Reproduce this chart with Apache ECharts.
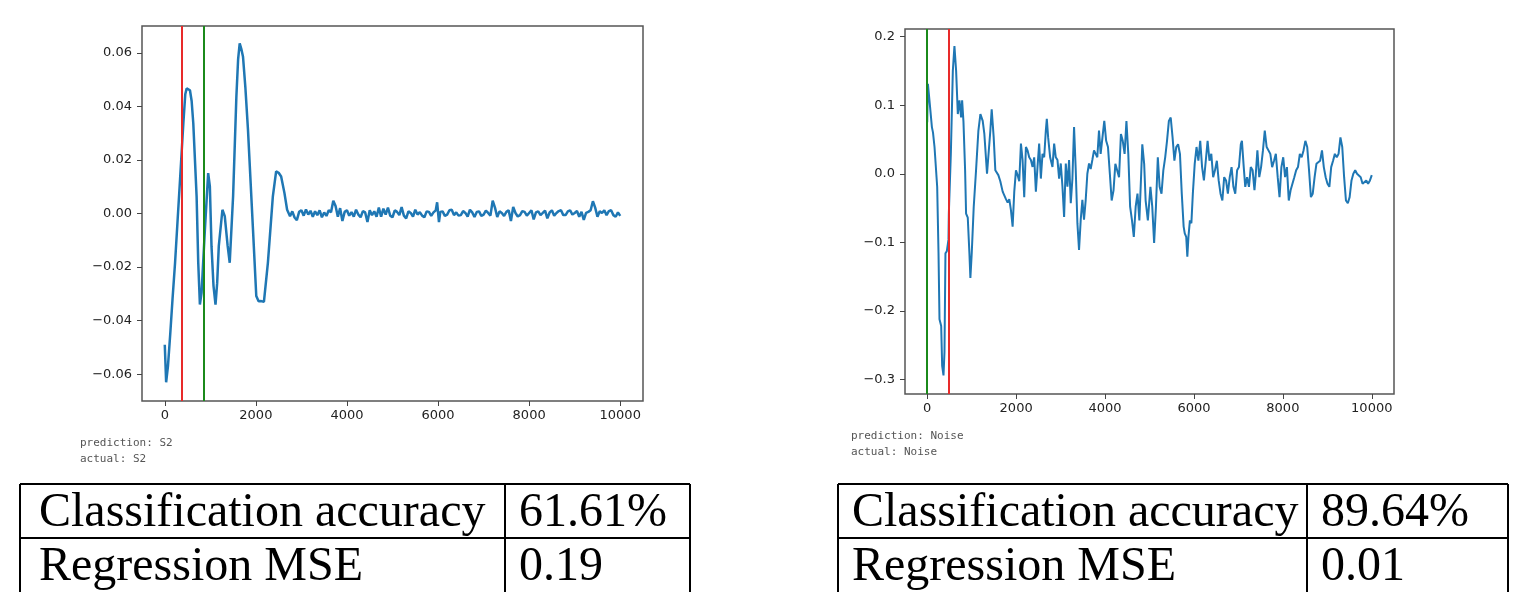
<!DOCTYPE html>
<html>
<head>
<meta charset="utf-8">
<script src="https://cdn.jsdelivr.net/npm/echarts@6/dist/echarts.min.js"></script>
<style>
  html, body { margin: 0; padding: 0; background: #fff; }
  #main { width: 1525px; height: 592px; }
</style>
</head>
<body>
<div id="main"></div>
<script>
// left panel: S2 signal
const leftX = [0, 30, 70, 120, 170, 226, 280, 335, 408, 450, 480, 520, 553, 590, 626, 699, 735, 771, 808, 881, 953, 990, 1026, 1070, 1114, 1150, 1186, 1266, 1317, 1380, 1426, 1500, 1572, 1610, 1645, 1680, 1718, 1770, 1827, 1937, 2009, 2060, 2118, 2177, 2264, 2373, 2445, 2500, 2555, 2627, 2686,
  2750, 2800, 2850, 2900, 2950, 3000, 3050, 3100, 3150, 3200, 3250, 3300, 3350, 3400, 3450, 3500, 3550, 3600, 3650, 3700, 3750, 3800, 3850, 3900, 3950, 4000,
  4050, 4100, 4150, 4200, 4250, 4300, 4350, 4400, 4450, 4500, 4550, 4600, 4650, 4700, 4750, 4800, 4850, 4900, 4950, 5000, 5050, 5100, 5150, 5200, 5250, 5300,
  5350, 5400, 5450, 5500, 5550, 5600, 5650, 5700, 5750, 5800, 5850, 5900, 5950, 5980, 6020, 6050, 6100, 6150, 6200, 6250, 6300, 6350, 6400, 6450, 6500, 6550,
  6600, 6650, 6700, 6750, 6800, 6850, 6900, 6950, 7000, 7050, 7100, 7150, 7200, 7250, 7300, 7350, 7400, 7450, 7500, 7550, 7600, 7650, 7700, 7750, 7800, 7850,
  7900, 7950, 8000, 8050, 8100, 8150, 8200, 8250, 8300, 8350, 8400, 8450, 8500, 8550, 8600, 8650, 8700, 8750, 8800, 8850, 8900, 8950, 9000, 9050, 9100, 9150,
  9200, 9250, 9300, 9350, 9400, 9450, 9500, 9550, 9600, 9650, 9700, 9750, 9800, 9850, 9900, 9950, 10000];
const leftY = [-0.049, -0.063, -0.057, -0.045, -0.032, -0.0184, -0.003, 0.0126, 0.0337, 0.0445, 0.0467, 0.0468, 0.046, 0.042, 0.0337, 0.0064, -0.0184, -0.034, -0.0295, -0.006, 0.0151, 0.0101, -0.0122, -0.027, -0.034, -0.026, -0.0122, 0.0014, -0.001, -0.012, -0.0184, 0.0064, 0.0436, 0.0575, 0.0635, 0.0615, 0.0585, 0.047, 0.0312, -0.006, -0.0308, -0.0328, -0.0327, -0.033, -0.0184, 0.0064, 0.0157, 0.0152, 0.0138, 0.0077, 0.0014,
  -0.001, 0.0008, -0.0015, -0.0025, 0.0006, 0.0012, -0.0008, 0.0015, -0.0004, 0.001, -0.0012, 0.0008, -0.0006, 0.0012, -0.0014, 0.0004, -0.0009, 0.0012, 0.0005, 0.0048, 0.0028, -0.0012, 0.002, -0.0028, 0.0006, 0.0012,
  -0.0008, 0.0005, -0.0012, 0.0014, -0.0004, -0.0014, 0.0009, 0.0004, -0.0032, 0.0012, -0.0006, 0.0008, -0.0012, 0.0022, -0.0012, 0.0018, -0.0004, 0.0022, -0.0008, -0.0014, 0.0012, 0.0006, -0.0006, 0.0024, -0.0008, -0.0018,
  0.0008, 0.0002, -0.0012, 0.0014, -0.0004, 0.0005, -0.0008, -0.0014, 0.0008, 0.0006, -0.0009, 0.0004, 0.0012, 0.0042, -0.0032, 0.0006, 0.0008, -0.0009, -0.0004, 0.0012, 0.0014, -0.0006, 0.0004, -0.0008, -0.0006, 0.0009,
  0.0002, -0.0012, 0.0014, 0.0004, -0.0013, 0.0006, 0.0008, -0.0009, -0.0004, 0.0011, 0.0002, -0.0008, 0.0048, 0.0022, -0.0013, 0.0008, 0.0002, -0.0009, 0.0006, 0.0012, -0.0028, 0.0024, 0.0002, -0.0011, -0.0006, 0.0009,
  0.0006, -0.0008, 0.0002, 0.0012, -0.0022, 0.0004, 0.0008, -0.0006, 0.0002, 0.0011, -0.0018, 0.0004, 0.0012, -0.0008, 0.0002, 0.0009, 0.0012, -0.0006, -0.0006, 0.0008, 0.0012, -0.0004, 0.0002, 0.0009, -0.0012, 0.0006,
  -0.0024, 0.0002, 0.0006, 0.0012, 0.0046, 0.0022, -0.0012, 0.0008, 0.0002, 0.0012, -0.0006, 0.0009, 0.0012, -0.0006, -0.0012, 0.0004, -0.0009];

// right panel: Noise signal
const rightX = [0, 15, 60, 105, 130, 164, 224, 254, 276, 314, 336, 366, 388, 410, 440, 478, 486, 531, 576, 612, 650, 688, 725, 762, 785, 815, 852, 874, 912, 949, 971, 1001, 1046, 1098, 1151, 1196, 1248, 1285, 1345, 1375, 1420, 1450, 1495, 1532, 1562, 1600, 1644, 1697, 1734, 1771, 1809, 1846, 1883, 1921, 1958, 1996,
  2033, 2070, 2108, 2145, 2182, 2220, 2257, 2294, 2332, 2369, 2406, 2444, 2481, 2518, 2556, 2593, 2631, 2668, 2690, 2720, 2765, 2817, 2855, 2892, 2930, 2967, 3004, 3042, 3079, 3117, 3154, 3191, 3229, 3266, 3303, 3341, 3378,
  3415, 3453, 3490, 3527, 3565, 3602, 3640, 3677, 3714, 3752, 3789, 3826, 3864, 3901, 3942, 3983, 4025, 4066, 4108, 4149, 4191, 4232, 4274, 4315, 4357, 4398, 4440, 4481, 4523, 4564, 4606, 4647, 4689, 4730, 4772, 4813, 4838,
  4880, 4913, 4963, 5021, 5062, 5104, 5145, 5187, 5228, 5270, 5311, 5353, 5394, 5436, 5477, 5519, 5560, 5602, 5643, 5685, 5726, 5768, 5793, 5826, 5851, 5876, 5909, 5942, 5975, 6017, 6058, 6100, 6141, 6183, 6224, 6266, 6307,
  6349, 6390, 6432, 6473, 6515, 6556, 6598, 6639, 6680, 6722, 6763, 6805, 6846, 6888, 6929, 6971, 7012, 7054, 7079, 7120, 7154, 7195, 7237, 7278, 7320, 7361, 7386, 7427, 7469, 7510, 7552, 7593, 7635, 7676, 7718, 7759, 7801,
  7842, 7884, 7925, 7967, 8008, 8050, 8091, 8133, 8174, 8216, 8257, 8299, 8340, 8382, 8423, 8465, 8506, 8548, 8589, 8631, 8672, 8714, 8755, 8797, 8838, 8880, 8921, 8963, 9004, 9046, 9087, 9129, 9170, 9212, 9253, 9295, 9336,
  9378, 9419, 9461, 9502, 9544, 9585, 9627, 9668, 9710, 9751, 9793, 9834, 9876, 9917, 9959, 10000];
const rightY = [0.075, 0.131, 0.1, 0.068, 0.06, 0.039, -0.019, -0.116, -0.212, -0.222, -0.28, -0.294, -0.26, -0.116, -0.113, -0.096, -0.058, 0.029, 0.15, 0.186, 0.15, 0.087, 0.107, 0.082, 0.107, 0.076, 0.005, -0.058, -0.064, -0.116, -0.152, -0.116, -0.048, 0.005, 0.063, 0.087, 0.077, 0.058, 0.0, -0.002, 0.063, 0.094, 0.053, 0.005, 0.007, -0.002, -0.011, -0.026, -0.028, -0.037, -0.042, -0.037, -0.053, -0.077, -0.026, 0.005,
  -0.002, -0.011, 0.044, 0.02, -0.034, 0.039, 0.034, 0.024, 0.02, 0.01, 0.024, -0.026, 0.01, 0.044, -0.007, 0.029, 0.024, 0.063, 0.08, 0.053, 0.024, 0.01, 0.044, 0.024, 0.02, -0.007, 0.015, -0.019, -0.063, 0.015, -0.019, 0.02, -0.043, -0.007, 0.068, 0.005, -0.072,
  -0.111, -0.067, -0.038, -0.067, -0.038, 0.0, 0.015, 0.007, 0.02, 0.034, 0.029, 0.024, 0.063, 0.029, 0.029, 0.077, 0.048, 0.039, 0.0, -0.039, -0.024, 0.0145, 0.0145, -0.005, 0.058, 0.048, 0.029, 0.077, 0.029, -0.048, -0.068, -0.092, -0.048, -0.029, -0.068, 0.0, 0.043,
  0.0145, -0.039, -0.068, -0.019, -0.048, -0.101, -0.048, 0.024, -0.019, -0.029, 0.005, 0.024, 0.048, 0.077, 0.082, 0.053, 0.019, 0.039, 0.043, 0.029, -0.029, -0.077, -0.087, -0.092, -0.121, -0.092, -0.068, -0.072, -0.029, 0.0145, 0.039, 0.019, 0.048, 0.0097, -0.0097, 0.019, 0.048,
  0.019, 0.029, -0.005, 0.005, 0.019, -0.0097, -0.029, -0.039, -0.005, -0.0097, -0.029, -0.005, 0.0097, -0.019, -0.029, 0.005, 0.0097, 0.043, 0.048, 0.0097, -0.019, -0.005, -0.019, 0.0097, 0.005, -0.024, -0.005, 0.034, -0.005, 0.0097, 0.034, 0.063, 0.039, 0.039, 0.029, 0.0097, 0.019,
  0.029, -0.005, -0.034, 0.0097, 0.024, -0.005, 0.0097, -0.039, -0.024, -0.024, -0.005, 0.005, 0.0097, 0.029, 0.024, 0.034, 0.048, 0.039, 0.005, -0.034, -0.029, -0.005, 0.0145, 0.0145, 0.019, 0.034, 0.0097, -0.005, -0.0145, -0.019, 0.0097, 0.019, 0.029, 0.024, 0.029, 0.053, 0.039,
  -0.005, -0.039, -0.043, -0.034, -0.0097, 0.0, 0.005, 0.0, 0.002, -0.005, -0.0145, -0.0145, -0.0097, -0.0145, -0.0097, -0.002];

// tick values
const xTicks = [0, 2000, 4000, 6000, 8000, 10000];
const leftYTicks = [-0.06, -0.04, -0.02, 0, 0.02, 0.04, 0.06];
const rightYTicks = [-0.3, -0.2, -0.1, 0, 0.1, 0.2];

// marker positions (red = prediction, green = actual)
const leftMarks = [370, 850];
const rightMarks = [490, 0];

const leftCaption = ["prediction: S2", "actual: S2"];
const rightCaption = ["prediction: Noise", "actual: Noise"];

const leftTable = [["Classification accuracy", "61.61%"], ["Regression MSE", "0.19"]];
const rightTable = [["Classification accuracy", "89.64%"], ["Regression MSE", "0.01"]];

(function () {
    let myChart = echarts.init(document.getElementById("main"))

    const minus = s => s.replace("-", "\u2212")
    const tickText = { color: "#222", fontSize: 13, fontFamily: "DejaVu Sans" }

    function xAxis(idx) {
        return {
            type: "value", gridIndex: idx, min: -500, max: 10500,
            axisLine: { show: false, onZero: false },
            axisTick: { customValues: xTicks, length: 5, lineStyle: { color: "#444" } },
            axisLabel: Object.assign({ customValues: xTicks, margin: 8, formatter: v => String(v) }, tickText),
            splitLine: { show: false }
        }
    }
    function yAxis(idx, min, max, ticks, dec) {
        return {
            type: "value", gridIndex: idx, min: min, max: max,
            axisLine: { show: false, onZero: false },
            axisTick: { customValues: ticks, length: 5, lineStyle: { color: "#444" } },
            axisLabel: Object.assign({
                customValues: ticks, margin: 10,
                formatter: v => minus(Number(v).toFixed(dec))
            }, tickText),
            splitLine: { show: false }
        }
    }
    function marks(vals) {
        return {
            silent: true, symbol: "none", label: { show: false },
            data: [
                { xAxis: vals[0], lineStyle: { color: "#e82a2a", width: 2, type: "solid" } },
                { xAxis: vals[1], lineStyle: { color: "#1b8a1b", width: 2, type: "solid" } }
            ]
        }
    }

    // tables and captions
    let graphic = []
    function caption(lines, x, y) {
        lines.forEach((t, i) => graphic.push({
            type: "text", left: x, top: y + i * 16,
            style: { text: t, fill: "#555", font: "11px 'DejaVu Sans Mono'" }
        }))
    }
    function table(rows, x0, x1, xDiv, yTop, rowH, pad) {
        const ln = { stroke: "#000", lineWidth: 2 }
        graphic.push({ type: "line", shape: { x1: x0, y1: yTop, x2: x1, y2: yTop }, style: ln })
        graphic.push({ type: "line", shape: { x1: x0, y1: yTop + rowH, x2: x1, y2: yTop + rowH }, style: ln })
        graphic.push({ type: "line", shape: { x1: x0, y1: yTop, x2: x0, y2: 600 }, style: ln })
        graphic.push({ type: "line", shape: { x1: x1, y1: yTop, x2: x1, y2: 600 }, style: ln })
        graphic.push({ type: "line", shape: { x1: xDiv, y1: yTop, x2: xDiv, y2: 600 }, style: ln })
        rows.forEach((r, i) => {
            const cy = yTop + rowH * i + rowH / 2 + 2
            graphic.push({ type: "text", x: x0 + pad, y: cy,
                style: { text: r[0], fill: "#000", font: "48px 'Liberation Serif'", verticalAlign: "middle" } })
            graphic.push({ type: "text", x: xDiv + 14, y: cy,
                style: { text: r[1], fill: "#000", font: "48px 'Liberation Serif'", verticalAlign: "middle" } })
        })
    }
    caption(leftCaption, 80, 438)
    caption(rightCaption, 851, 431)
    table(leftTable, 20, 690, 505, 484, 54, 19)
    table(rightTable, 838, 1508, 1307, 484, 54, 14)

    let option = {
        animation: false,
        grid: [
            { left: 142, top: 26, width: 501, height: 375, show: true, borderColor: "#555", borderWidth: 1.5 },
            { left: 905, top: 29, width: 489, height: 365, show: true, borderColor: "#555", borderWidth: 1.5 }
        ],
        xAxis: [xAxis(0), xAxis(1)],
        yAxis: [
            yAxis(0, -0.07, 0.07, leftYTicks, 2),
            yAxis(1, -0.321, 0.211, rightYTicks, 1)
        ],
        series: [
            {
                type: "line", xAxisIndex: 0, yAxisIndex: 0, showSymbol: false,
                lineStyle: { color: "#1f77b4", width: 2.5 },
                data: leftX.map((x, i) => [x, leftY[i]]),
                markLine: marks(leftMarks)
            },
            {
                type: "line", xAxisIndex: 1, yAxisIndex: 1, showSymbol: false,
                lineStyle: { color: "#1f77b4", width: 2 },
                data: rightX.map((x, i) => [x, rightY[i]]),
                markLine: marks(rightMarks)
            }
        ],
        graphic: graphic
    };
    myChart.setOption(option)
    window.addEventListener("resize", function () {
        myChart.resize()
    })
})();
</script>
</body>
</html>
